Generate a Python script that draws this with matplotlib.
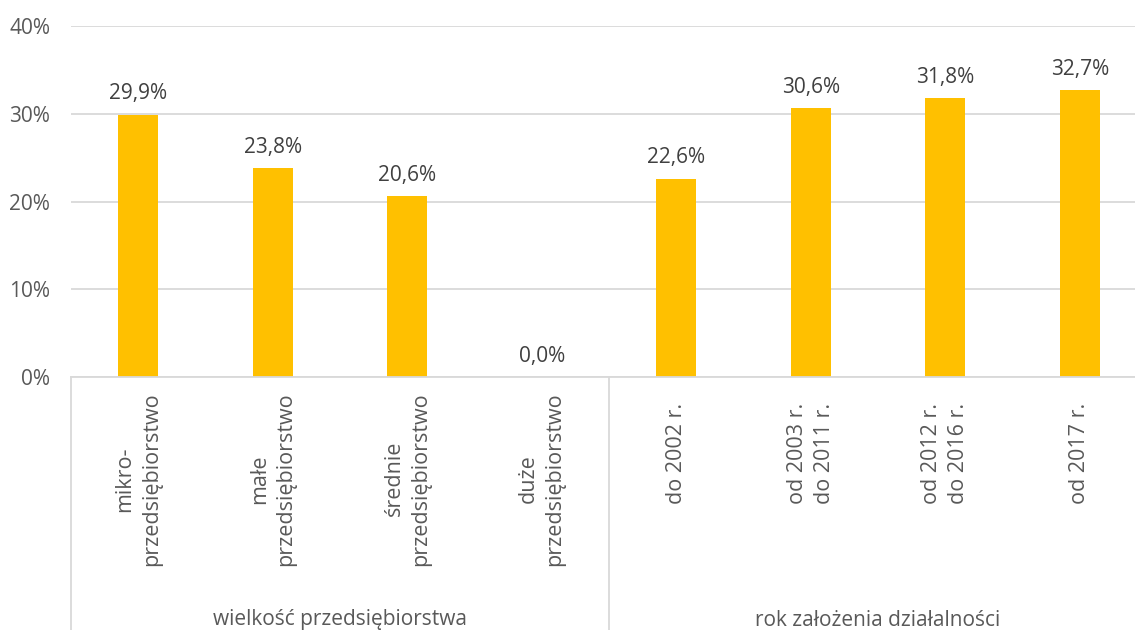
import matplotlib
matplotlib.use("Agg")
import matplotlib.pyplot as plt

categories = [
    "mikro-\nprzedsiębiorstwo",
    "małe\nprzedsiębiorstwo",
    "średnie\nprzedsiębiorstwo",
    "duże\nprzedsiębiorstwo",
    "do 2002 r.",
    "od 2003 r.\ndo 2011 r.",
    "od 2012 r.\ndo 2016 r.",
    "od 2017 r.",
]
values = [0.299, 0.238, 0.206, 0.0, 0.226, 0.306, 0.318, 0.327]
groups = ["wielkość przedsiębiorstwa", "rok założenia działalności"]
group_sizes = [4, 4]
yticks = [0.0, 0.1, 0.2, 0.3, 0.4]

plt.rcParams['font.family'] = ['Open Sans', 'DejaVu Sans']
TXT = '#595959'
LBL = '#404040'
GRID = '#d9d9d9'
BAR = '#FFC000'
FS = 15

fig = plt.figure(figsize=(11.35, 6.3), dpi=100)
W, H = 1135, 630
ax = fig.add_axes([71 / W, 1 - 377 / H, 1076 / W, 351 / H])

x = list(range(len(categories)))
ax.bar(x, values, width=0.3, color=BAR, zorder=3)
ax.set_xlim(-0.5, len(categories) - 0.5)
ax.set_ylim(0, 0.4)
ax.set_yticks(yticks)
ax.set_yticklabels([f"{int(round(t*100))}%" for t in yticks], fontsize=FS, color=TXT)
ax.tick_params(axis='y', length=0, pad=15)
ax.tick_params(axis='x', length=0, labelbottom=False)
ax.yaxis.grid(True, color=GRID, lw=1.3, zorder=0)
for s in ['top', 'right', 'left']:
    ax.spines[s].set_visible(False)
ax.spines['bottom'].set_color(GRID)
ax.spines['bottom'].set_linewidth(1.3)
ax.spines['bottom'].set_zorder(4)

for xi, v in zip(x, values):
    lab = f"{v*100:.1f}".replace('.', ',') + '%'
    ax.annotate(lab, (xi, v), xytext=(0, 11), textcoords='offset points',
                ha='center', va='baseline', fontsize=FS, color=LBL)

tr = ax.get_xaxis_transform()
ax_h = 351
offsets = [(392 - 377) / ax_h, (403 - 377) / ax_h]
bottom = -(630 - 377) / ax_h - 0.05
start = 0
bounds = [-0.5]
for gi, (g, n) in enumerate(zip(groups, group_sizes)):
    for k in range(start, start + n):
        ax.text(k, -offsets[gi], categories[k], transform=tr, rotation=90,
                ha='center', va='top', multialignment='center',
                fontsize=15.5, color=TXT, linespacing=1.35)
    end = start + n
    ax.text((start + end - 1) / 2, -(620 - 377) / ax_h, g, transform=tr,
            ha='center', va='center', fontsize=FS, color=TXT)
    bounds.append(end - 0.5)
    start = end

for b in bounds:
    ax.plot([b, b], [0, bottom], transform=tr, color=GRID, lw=1.3, clip_on=False)

fig.savefig('out.png', dpi=100)
